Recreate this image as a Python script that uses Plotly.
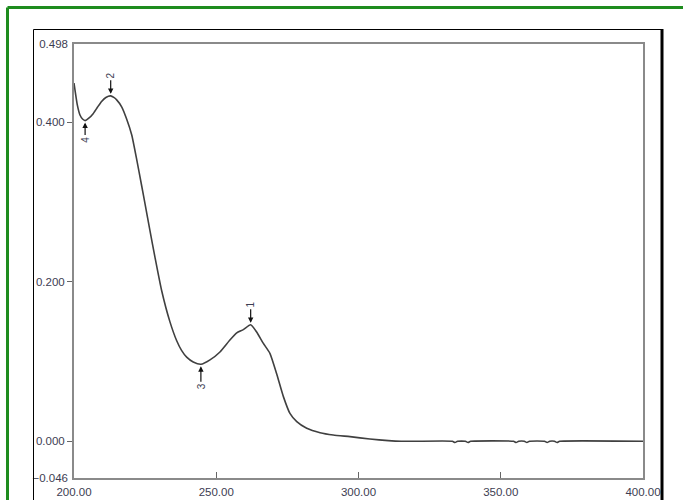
import plotly.graph_objects as go

# ---- data ----
wavelength = [200.0, 201.2, 202.1, 203.0, 203.9, 205.2, 206.8, 208.3, 209.7, 211.2,
              212.9, 214.0, 215.0, 216.8, 218.5, 220.3, 222.0, 223.8, 225.0, 226.7,
              228.5, 230.8, 233.7, 236.1, 237.8, 239.6, 241.9, 244.6, 247.8, 251.3,
              254.8, 257.2, 259.5, 262.1, 264.2, 266.5, 268.9, 271.2, 273.6, 275.9,
              278.3, 281.8, 286.5, 291.1, 297.0, 304.0, 310.5, 315.0, 320.0, 333.0,
              333.9, 334.8, 337.6, 338.5, 339.4, 354.5, 355.4, 356.3, 358.3, 359.2,
              360.1, 365.4, 366.3, 367.2, 368.9, 369.8, 370.7, 400.0]
absorbance = [0.449, 0.421, 0.409, 0.404, 0.402, 0.405, 0.411, 0.419, 0.426, 0.431,
              0.433, 0.431, 0.428, 0.419, 0.404, 0.384, 0.354, 0.320, 0.297, 0.264,
              0.230, 0.189, 0.150, 0.126, 0.114, 0.1055, 0.0995, 0.0965, 0.102, 0.112,
              0.127, 0.136, 0.140, 0.146, 0.137, 0.123, 0.110, 0.085, 0.056, 0.035,
              0.0246, 0.0163, 0.0108, 0.0079, 0.0058, 0.0029, 0.0008, 0.0, 0.0, 0.0,
              -0.0015, 0.0, 0.0, -0.0015, 0.0, 0.0, -0.0015, 0.0, 0.0, -0.0015,
              0.0, 0.0, -0.0015, 0.0, 0.0, -0.0015, 0.0, 0.0]

peak_labels = ["1", "2", "3", "4"]
peak_wl = [262.1, 212.9, 244.6, 203.9]
peak_abs = [0.146, 0.433, 0.0965, 0.402]

x_ticks = [200, 250, 300, 350, 400]
y_ticks = [0.0, 0.2, 0.4]
y_end_ticks = [-0.046, 0.498]
x_range = [200, 400]
y_range = [-0.046, 0.498]

FONT = "Liberation Sans, Arial, sans-serif"
TXT = "#3d3d52"

fig = go.Figure()
fig.add_trace(go.Scatter(x=wavelength, y=absorbance, mode="lines",
                         line=dict(color="#404040", width=1.6, shape="spline", smoothing=0.5),
                         showlegend=False, hoverinfo="skip"))
# invisible trace on second y axis so its tick labels show
fig.add_trace(go.Scatter(x=[x_range[0]], y=[y_range[0]], yaxis="y2", mode="markers",
                         marker=dict(opacity=0), showlegend=False, hoverinfo="skip"))

offsets = {"1": -20, "2": -20, "3": 22, "4": 19}
for lab, xv, yv in zip(peak_labels, peak_wl, peak_abs):
    fig.add_annotation(x=xv, y=yv, text=lab, textangle=-90, showarrow=True,
                       ax=0, ay=offsets[lab], arrowhead=2, arrowsize=0.9,
                       arrowwidth=1.2, arrowcolor="#111", standoff=2,
                       font=dict(family=FONT, size=10, color=TXT))

W, H = 683, 500
L, R, T, B = 74, 40, 44, 22
pw, ph = W - L - R, H - T - B

def px(x):
    return (x - L) / pw

def py(y):
    return (H - B - y) / ph

shapes = [
    # green outer border
    dict(type="line", xref="paper", yref="paper", x0=px(7.5), x1=px(690), y0=py(7.5), y1=py(7.5),
         line=dict(color="#1e8c1e", width=3)),
    dict(type="line", xref="paper", yref="paper", x0=px(7.5), x1=px(7.5), y0=py(7.5), y1=py(510),
         line=dict(color="#1e8c1e", width=3)),
    # black inner border
    dict(type="line", xref="paper", yref="paper", x0=px(33.5), x1=px(662), y0=py(29.5), y1=py(29.5),
         line=dict(color="#000", width=1)),
    dict(type="line", xref="paper", yref="paper", x0=px(33.5), x1=px(33.5), y0=py(29.5), y1=py(510),
         line=dict(color="#000", width=1)),
    dict(type="line", xref="paper", yref="paper", x0=px(662), x1=px(662), y0=py(29), y1=py(510),
         line=dict(color="#000", width=3)),
]

fig.update_layout(
    width=W, height=H, template="none",
    margin=dict(l=L, r=R, t=T, b=B, pad=0),
    paper_bgcolor="white", plot_bgcolor="white",
    shapes=shapes,
    xaxis=dict(range=x_range, tickvals=x_ticks, tickformat=".2f", ticks="inside",
               ticklen=6, tickwidth=1, tickcolor="#666", showgrid=False, zeroline=False,
               showline=True, mirror=True, linecolor="#8a8a8a", linewidth=2,
               automargin=False, ticklabelstandoff=2,
               tickfont=dict(family=FONT, size=11.5, color=TXT)),
    yaxis=dict(range=y_range, tickvals=y_ticks, tickformat=".3f", ticks="outside",
               ticklen=5, tickwidth=1, tickcolor="#666", showgrid=False, zeroline=False,
               showline=True, mirror=True, linecolor="#8a8a8a", linewidth=2,
               automargin=False, tickfont=dict(family=FONT, size=11.5, color=TXT)),
    yaxis2=dict(range=y_range, tickvals=y_end_ticks, tickformat=".3f", ticks="",
                overlaying="y", side="left", showgrid=False, zeroline=False,
                showline=False, automargin=False, ticklabelstandoff=5,
                tickfont=dict(family=FONT, size=11.5, color=TXT)),
)

fig.write_html("out.html", config={"displayModeBar": False},
               post_script="document.body.style.margin='0';document.body.style.padding='0';"
                           "document.body.style.overflow='hidden';")
